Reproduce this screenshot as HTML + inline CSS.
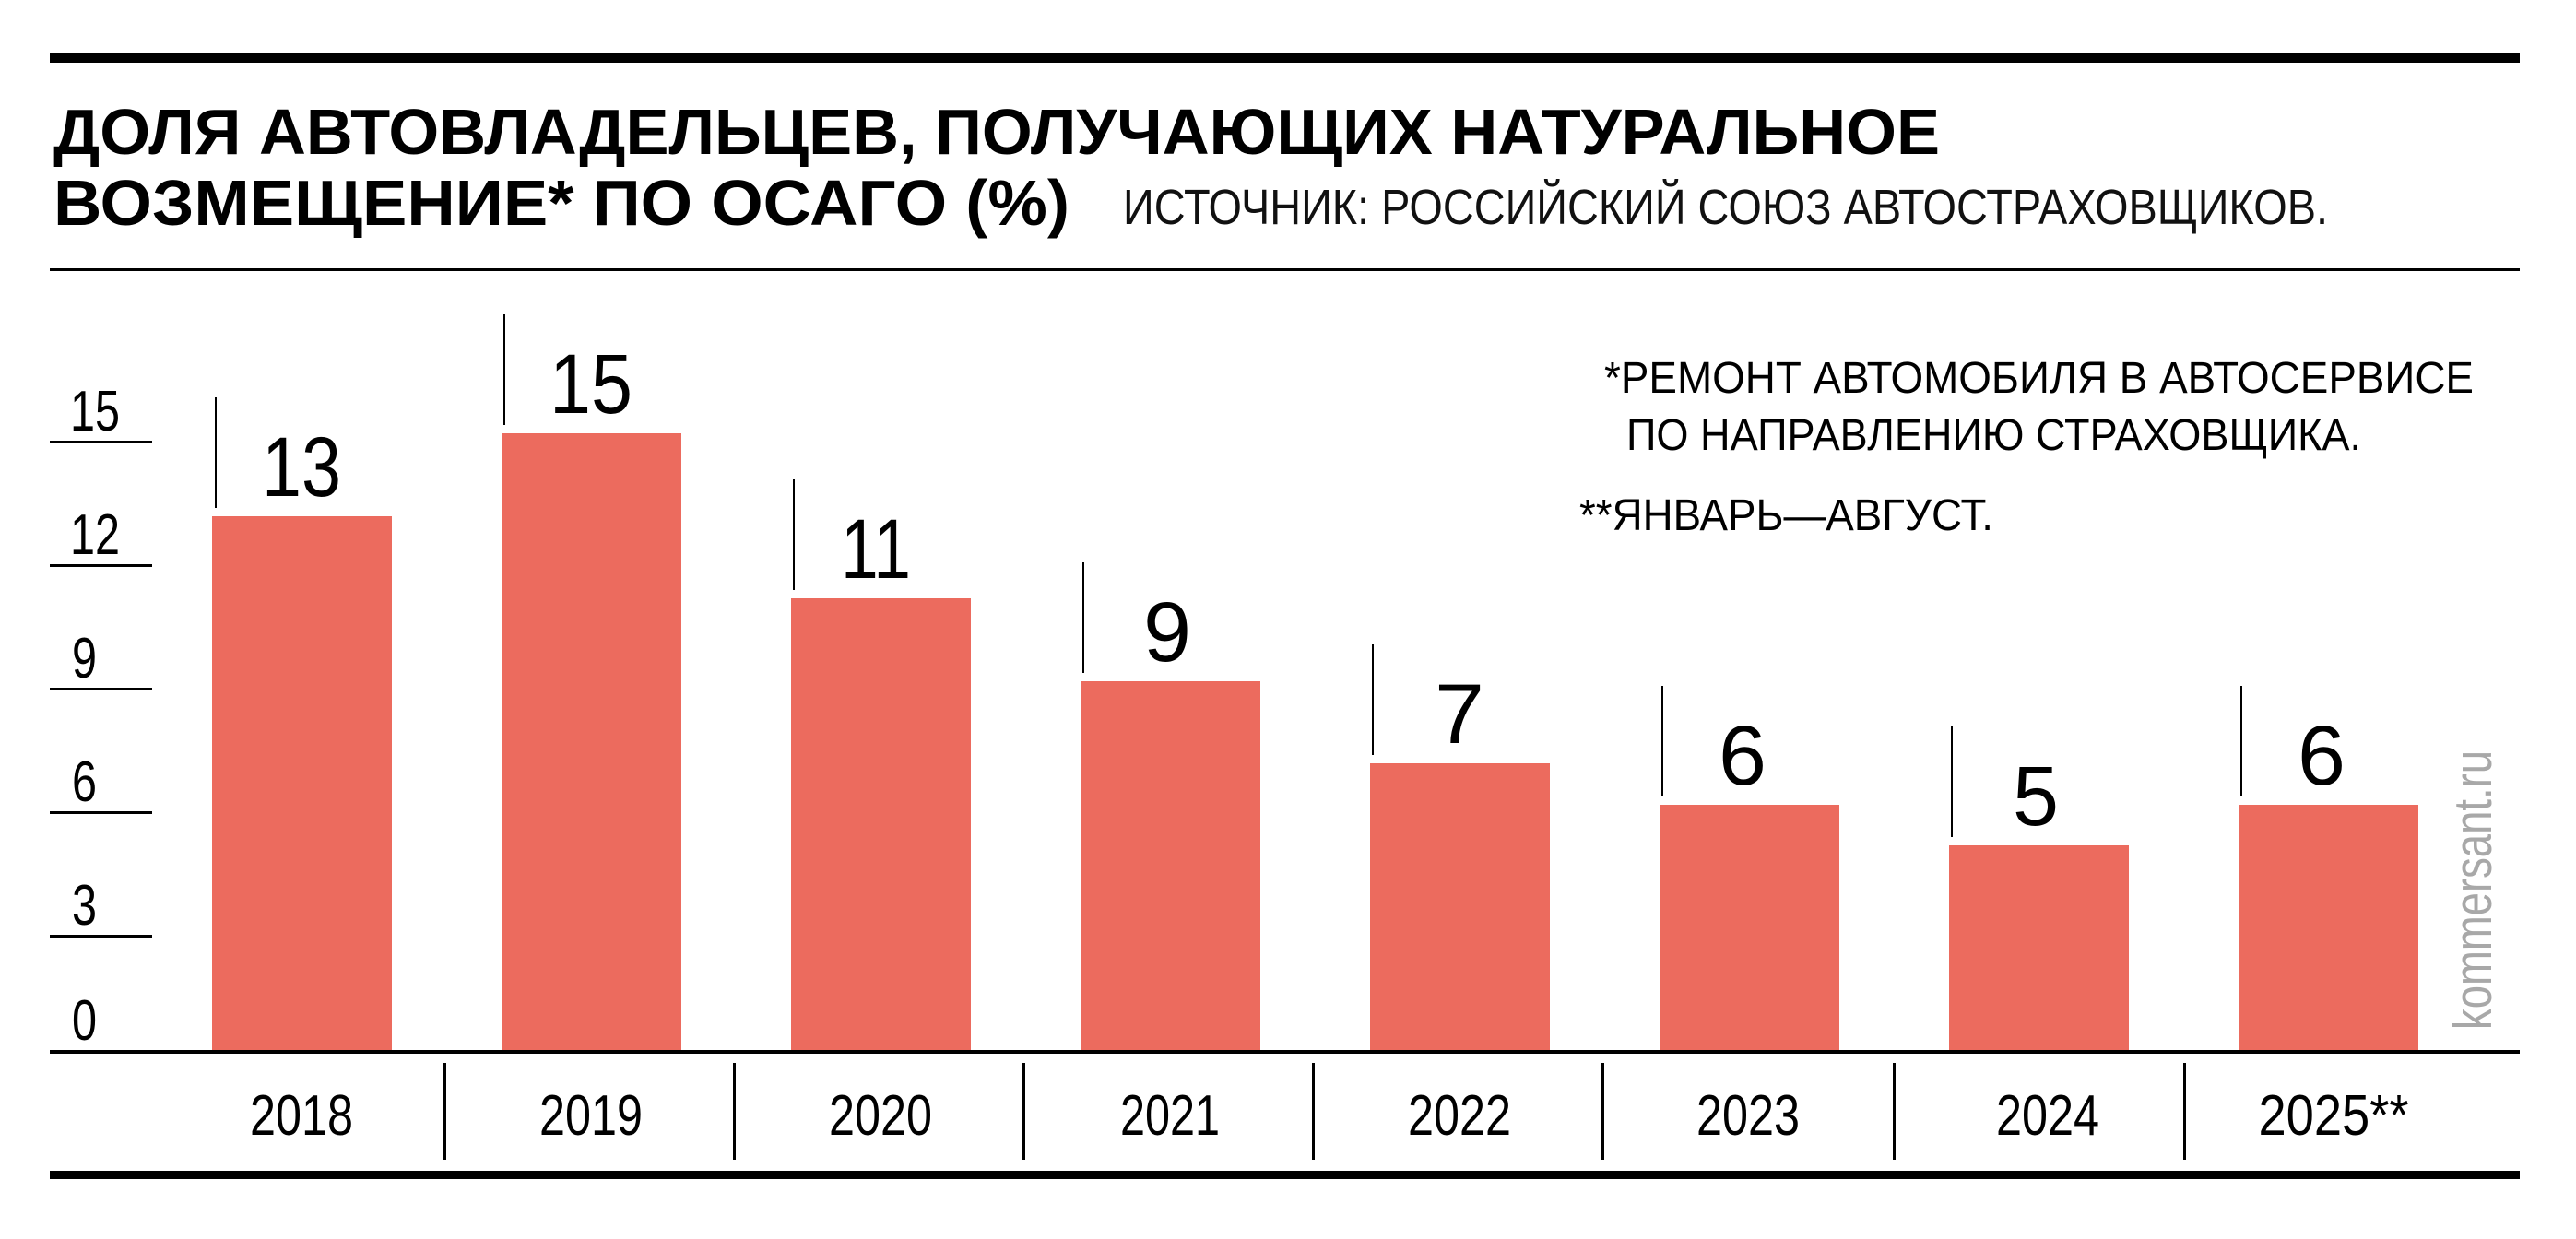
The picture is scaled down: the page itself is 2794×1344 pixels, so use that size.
<!DOCTYPE html>
<html><head><meta charset="utf-8"><style>
html,body{margin:0;padding:0;background:#fff;}
svg{display:block;}
text{font-family:"Liberation Sans","Noto Sans CJK SC",sans-serif;}
</style></head><body>
<svg width="2794" height="1344" viewBox="0 0 2794 1344" xmlns="http://www.w3.org/2000/svg">
<rect x="0" y="0" width="2794" height="1344" fill="#fff"/>
<rect x="54" y="58" width="2679" height="10" fill="#000"/>
<text x="58" y="167" font-size="70" font-weight="bold" textLength="2046" lengthAdjust="spacingAndGlyphs">ДОЛЯ АВТОВЛАДЕЛЬЦЕВ, ПОЛУЧАЮЩИХ НАТУРАЛЬНОЕ</text>
<text x="58" y="244" font-size="70" font-weight="bold" textLength="1102" lengthAdjust="spacingAndGlyphs">ВОЗМЕЩЕНИЕ* ПО ОСАГО (%)</text>
<text x="1218" y="243" font-size="54" textLength="1307" lengthAdjust="spacingAndGlyphs" fill="#111">ИСТОЧНИК: РОССИЙСКИЙ СОЮЗ АВТОСТРАХОВЩИКОВ.</text>
<rect x="54" y="291" width="2679" height="3" fill="#000"/>
<text x="1740" y="426" font-size="48" textLength="943" lengthAdjust="spacingAndGlyphs">*РЕМОНТ АВТОМОБИЛЯ В АВТОСЕРВИСЕ</text>
<text x="1764" y="488" font-size="48" textLength="797" lengthAdjust="spacingAndGlyphs">ПО НАПРАВЛЕНИЮ СТРАХОВЩИКА.</text>
<text x="1713" y="575" font-size="48" textLength="449" lengthAdjust="spacingAndGlyphs">**ЯНВАРЬ—АВГУСТ.</text>
<g fill="#000">
<rect x="54" y="478" width="111" height="3"/>
<rect x="54" y="612" width="111" height="3"/>
<rect x="54" y="746" width="111" height="3"/>
<rect x="54" y="880" width="111" height="3"/>
<rect x="54" y="1014" width="111" height="3"/>
</g>
<g font-size="62">
<text x="76" y="467" textLength="54" lengthAdjust="spacingAndGlyphs">15</text>
<text x="76" y="601" textLength="54" lengthAdjust="spacingAndGlyphs">12</text>
<text x="78" y="735" textLength="27" lengthAdjust="spacingAndGlyphs">9</text>
<text x="78" y="869" textLength="27" lengthAdjust="spacingAndGlyphs">6</text>
<text x="78" y="1003" textLength="27" lengthAdjust="spacingAndGlyphs">3</text>
<text x="78" y="1128" textLength="27" lengthAdjust="spacingAndGlyphs">0</text>
</g>
<g fill="#EC6B5E">
<rect x="230" y="560" width="195" height="581"/>
<rect x="544" y="470" width="195" height="671"/>
<rect x="858" y="649" width="195" height="492"/>
<rect x="1172" y="739" width="195" height="402"/>
<rect x="1486" y="828" width="195" height="313"/>
<rect x="1800" y="873" width="195" height="268"/>
<rect x="2114" y="917" width="195" height="224"/>
<rect x="2428" y="873" width="195" height="268"/>
</g>
<g fill="#000">
<rect x="233" y="431" width="2" height="120"/>
<rect x="546" y="341" width="2" height="120"/>
<rect x="860" y="520" width="2" height="120"/>
<rect x="1174" y="610" width="2" height="120"/>
<rect x="1488" y="699" width="2" height="120"/>
<rect x="1802" y="744" width="2" height="120"/>
<rect x="2116" y="788" width="2" height="120"/>
<rect x="2430" y="744" width="2" height="120"/>
</g>
<g font-size="92">
<text x="284" y="538" textLength="86" lengthAdjust="spacingAndGlyphs">13</text>
<text x="596" y="448" textLength="90" lengthAdjust="spacingAndGlyphs">15</text>
<text x="912" y="627" textLength="76" lengthAdjust="spacingAndGlyphs">11</text>
<text x="1240" y="717" textLength="52" lengthAdjust="spacingAndGlyphs">9</text>
<text x="1556" y="806" textLength="54" lengthAdjust="spacingAndGlyphs">7</text>
<text x="1864" y="851" textLength="52" lengthAdjust="spacingAndGlyphs">6</text>
<text x="2183" y="895" textLength="50" lengthAdjust="spacingAndGlyphs">5</text>
<text x="2492" y="851" textLength="52" lengthAdjust="spacingAndGlyphs">6</text>
</g>
<rect x="54" y="1139" width="2679" height="4" fill="#000"/>
<g fill="#000">
<rect x="481" y="1153" width="3" height="105"/>
<rect x="795" y="1153" width="3" height="105"/>
<rect x="1109" y="1153" width="3" height="105"/>
<rect x="1423" y="1153" width="3" height="105"/>
<rect x="1737" y="1153" width="3" height="105"/>
<rect x="2053" y="1153" width="3" height="105"/>
<rect x="2368" y="1153" width="3" height="105"/>
</g>
<g font-size="62" text-anchor="middle">
<text x="327" y="1231" textLength="112" lengthAdjust="spacingAndGlyphs">2018</text>
<text x="641" y="1231" textLength="112" lengthAdjust="spacingAndGlyphs">2019</text>
<text x="955" y="1231" textLength="112" lengthAdjust="spacingAndGlyphs">2020</text>
<text x="1269" y="1231" textLength="108" lengthAdjust="spacingAndGlyphs">2021</text>
<text x="1583" y="1231" textLength="112" lengthAdjust="spacingAndGlyphs">2022</text>
<text x="1896" y="1231" textLength="112" lengthAdjust="spacingAndGlyphs">2023</text>
<text x="2221" y="1231" textLength="112" lengthAdjust="spacingAndGlyphs">2024</text>
<text x="2531" y="1231" textLength="163" lengthAdjust="spacingAndGlyphs">2025**</text>
</g>
<rect x="54" y="1270" width="2679" height="9" fill="#000"/>
<text transform="translate(2702,1117) rotate(-90)" font-size="58" fill="#a8a8a8" textLength="303" lengthAdjust="spacingAndGlyphs">kommersant.ru</text>
</svg>
</body></html>
